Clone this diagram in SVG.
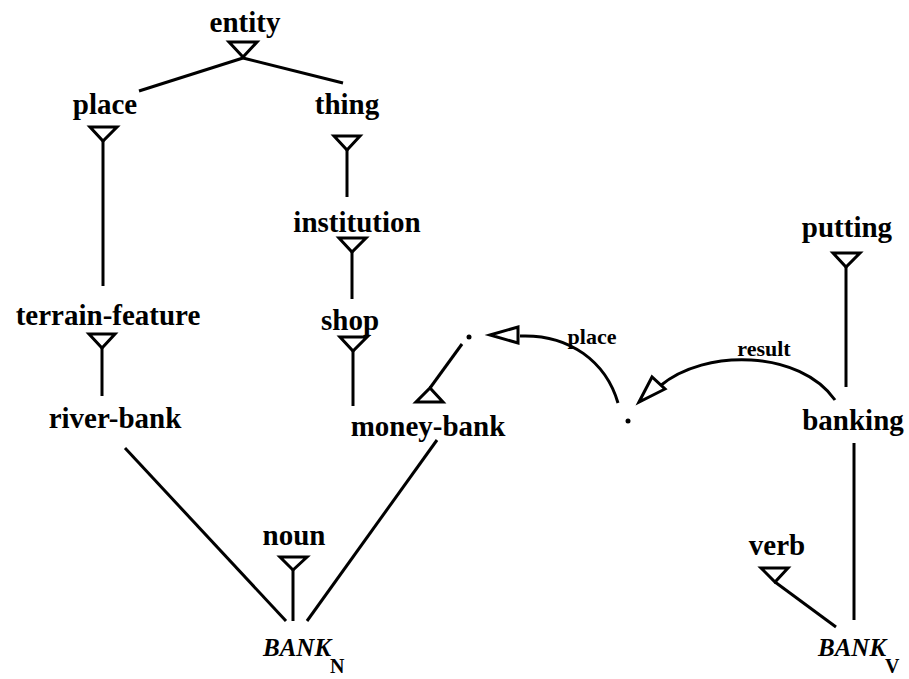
<svg xmlns="http://www.w3.org/2000/svg" width="909" height="679" viewBox="0 0 909 679">
<defs>
<style>
.t{font-family:"Liberation Serif","Times New Roman",serif;font-weight:bold;font-size:29px;fill:#000;text-anchor:middle}
.l{font-family:"Liberation Serif","Times New Roman",serif;font-weight:bold;font-size:22px;fill:#000;text-anchor:middle}
.b{font-family:"Liberation Serif","Times New Roman",serif;font-weight:bold;font-style:italic;font-size:25px;fill:#000}
.s{font-family:"Liberation Serif","Times New Roman",serif;font-weight:bold;font-size:20px;fill:#000}
.e{stroke:#000;stroke-width:3;fill:none;stroke-linecap:butt}
.tri{stroke:#000;stroke-width:3;fill:#fff;stroke-linejoin:miter}
</style>
</defs>
<rect width="909" height="679" fill="#fff"/>
<g id="connectors">
<line class="e" x1="243" y1="58" x2="139" y2="91"/>
<line class="e" x1="243" y1="58" x2="343" y2="83"/>
<line class="e" x1="103" y1="141" x2="103" y2="286"/>
<line class="e" x1="102" y1="348" x2="102" y2="396"/>
<line class="e" x1="347" y1="150" x2="347" y2="197"/>
<line class="e" x1="352" y1="252" x2="352" y2="299"/>
<line class="e" x1="353" y1="351" x2="353" y2="406"/>
<line class="e" x1="125" y1="448" x2="286" y2="621"/>
<line class="e" x1="437" y1="440" x2="307" y2="621"/>
<line class="e" x1="293" y1="570" x2="293" y2="621"/>
<line class="e" x1="430" y1="388" x2="462" y2="344"/>
<path class="e" d="M520,336 C570,334 606,362 618,403"/>
<path class="e" d="M835,400 C800,350 705,348 660,386"/>
<line class="e" x1="846" y1="267" x2="846" y2="387"/>
<line class="e" x1="854" y1="443" x2="854" y2="620"/>
<line class="e" x1="775" y1="582" x2="836" y2="627"/>
<polygon class="tri" points="229,42 257,42 243,57"/>
<polygon class="tri" points="90,127 117,127 103,141"/>
<polygon class="tri" points="89,334 115,334 102,348"/>
<polygon class="tri" points="334,136 360,136 347,150"/>
<polygon class="tri" points="339,238 366,238 352,252"/>
<polygon class="tri" points="340,337 367,337 353,351"/>
<polygon class="tri" points="280,557 307,557 293,570"/>
<polygon class="tri" points="416,402 443,402 430,388"/>
<polygon class="tri" points="490,335 518,327 518,343"/>
<polygon class="tri" points="639,402 652,377 665,389"/>
<polygon class="tri" points="833,253 860,253 846,267"/>
<polygon class="tri" points="761,568 788,568 775,582"/>
<circle cx="469" cy="337" r="2.5" fill="#000"/>
<circle cx="628" cy="421" r="2.5" fill="#000"/>
<text class="l" x="592" y="344">place</text>
<text class="l" x="764" y="356">result</text>
</g>
<g id="entity"><text class="t" x="245" y="32">entity</text></g>
<g id="place"><text class="t" x="105" y="114">place</text></g>
<g id="thing"><text class="t" x="347" y="114">thing</text></g>
<g id="institution"><text class="t" x="357" y="232">institution</text></g>
<g id="terrain-feature"><text class="t" x="108" y="325">terrain-feature</text></g>
<g id="shop"><text class="t" x="350" y="330">shop</text></g>
<g id="river-bank"><text class="t" x="115" y="428">river-bank</text></g>
<g id="money-bank"><text class="t" x="428" y="436">money-bank</text></g>
<g id="putting"><text class="t" x="847" y="237">putting</text></g>
<g id="banking"><text class="t" x="853" y="430">banking</text></g>
<g id="noun"><text class="t" x="294" y="545">noun</text></g>
<g id="verb"><text class="t" x="777" y="555">verb</text></g>
<g id="bank-n"><text class="b" x="263" y="656">BANK</text><text class="s" x="330" y="673">N</text></g>
<g id="bank-v"><text class="b" x="818" y="656">BANK</text><text class="s" x="885" y="673">V</text></g>
</svg>
